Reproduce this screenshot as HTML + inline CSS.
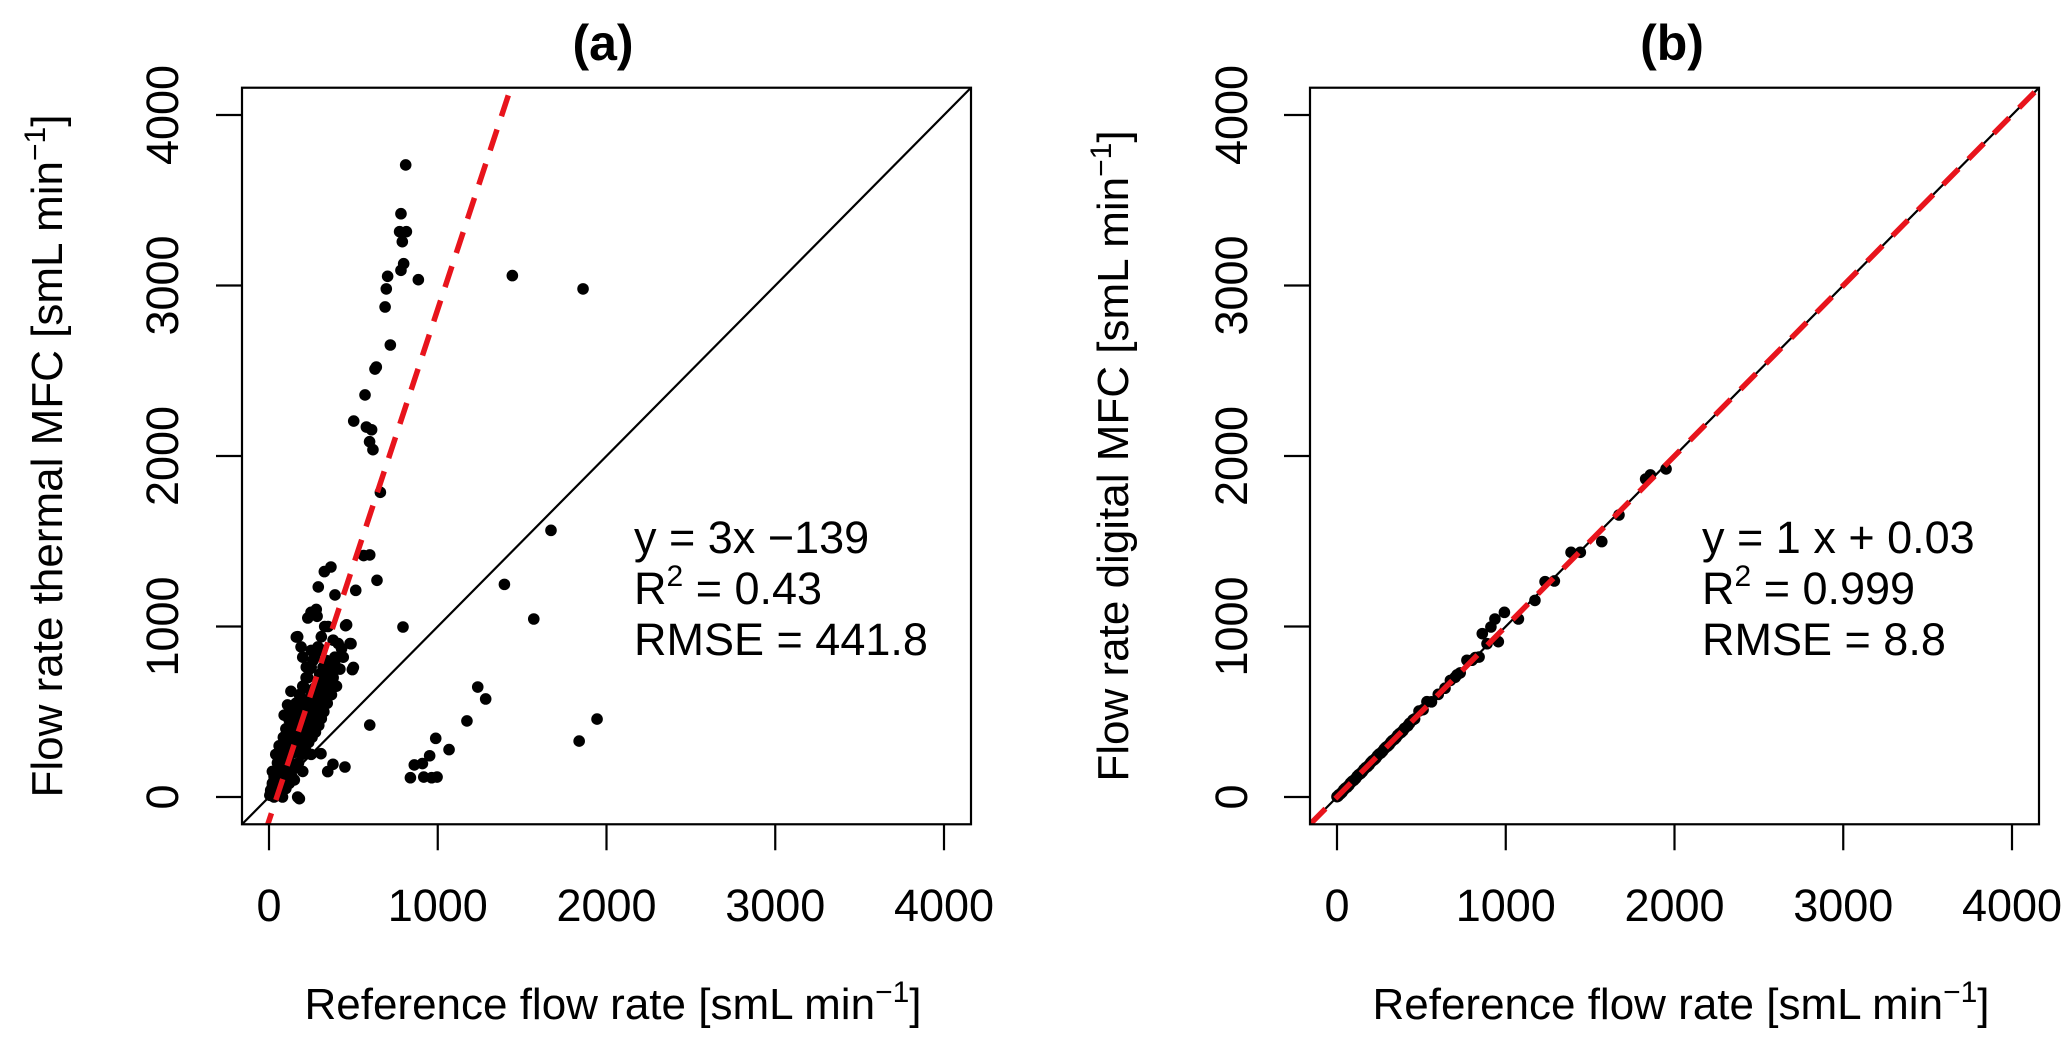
<!DOCTYPE html>
<html><head><meta charset="utf-8"><style>
html,body{margin:0;padding:0;background:#fff}
svg{display:block;font-family:"Liberation Sans",Arial,sans-serif}
</style></head><body>
<svg id="fig" width="2067" height="1045" viewBox="0 0 2067 1045"></svg>
<script>
const ticks=[0,1000,2000,3000,4000];
const tickLabels=["0","1000","2000","3000","4000"];
const fitA=[3,-139];
const fitB=[1,0.03];
const pointsAx=[810,782,774,814,790,798,782,703,885,695,688,719,636,628,569,502,577,608,596,616,660,1442,1861,1671,1395,1569,794,597,1237,1284,1173,988,1067,952,909,861,838,917,964,996,1944,1838,170,450,379,348,308,328,367,292,391,514,640,561,597,454,486,494,249,285,162,221,
5,10,15,20,25,30,35,40,45,50,55,60,65,70,75,80,85,90,95,100,105,110,115,120,125,130,135,140,145,150,155,160,165,170,175,180,185,190,195,200,205,210,215,220,225,230,235,240,245,250,255,260,265,270,275,280,285,290,295,300,305,310,315,320,325,330,335,340,345,350,360,370,380,390,400,410,420,380,300,250,200,170,190,130,110,90,60,40,20,230,260,280,330,350,440,460,480,500,30,60,100,150,120,80,200,250,180,140,160,220,270,320,360,400,60,90,50,20,10,
12,28,48,68,88,108,128,148,168,188,208,228,248,268,288,308,328,348,368,388,30,50,70,90,110,130,150,170,190,210,230,250,270,290,310,330,350,370,100,140,180,220,260,300,340,70,110,150,190,230,270,310,350,390,430];
const pointsAy=[3707,3421,3316,3316,3257,3128,3089,3054,3034,2980,2874,2651,2522,2510,2358,2205,2170,2154,2084,2037,1787,3058,2980,1564,1247,1044,997,422,645,575,446,344,278,242,196,188,113,117,113,117,457,328,0,176,192,149,254,1322,1349,1232,1185,1212,1271,1416,1420,1005,899,747,1083,1060,938,762,
10,40,20,80,5,120,60,150,30,200,90,250,40,300,130,180,350,60,220,400,150,280,90,450,200,330,120,500,260,380,170,550,300,420,200,600,350,470,250,650,380,520,280,700,420,560,320,750,460,600,350,800,500,640,380,850,540,680,420,720,580,460,650,760,500,600,700,800,550,650,750,600,700,800,650,900,750,920,870,860,820,940,880,620,540,480,300,250,150,1050,1080,1100,1000,1000,820,1010,900,760,0,20,50,100,80,0,150,250,-10,320,420,480,560,640,700,760,180,260,120,60,30,
30,70,110,150,190,230,270,310,350,390,430,470,510,550,590,630,670,710,750,790,100,160,220,280,340,400,460,520,580,640,700,760,820,880,940,560,620,680,200,260,320,380,440,500,560,260,330,400,470,540,610,680,750,820,870];
const pointsBx=[1950,1857,1829,1671,1569,1442,1387,1288,1233,1173,1075,992,936,956,889,912,861,842,770,711,672,533,486,450,420,400,380,360,340,320,300,280,260,240,220,200,180,160,140,120,100,80,60,40,20,10,0,5,30,50,70,90,110,130,150,170,190,210,230,250,270,290,310,330,350,370,390,430,460,510,560,600,640,700,730,800,820];
const pointsBy=[1924,1889,1865,1654,1498,1435,1435,1267,1263,1153,1044,1083,1044,911,899,997,958,821,802,716,684,559,504,452,418,402,378,362,338,322,298,282,258,242,218,202,178,162,138,122,98,82,58,42,18,12,2,4,28,52,68,92,108,132,148,172,188,212,228,252,268,292,308,332,348,372,388,432,458,512,558,602,638,702,728,802,818];

const NS="http://www.w3.org/2000/svg";
const svg=document.getElementById('fig');
function el(tag,attrs,parent){const e=document.createElementNS(NS,tag);for(const k in attrs)e.setAttribute(k,attrs[k]);(parent||svg).appendChild(e);return e;}
const X0=269,KX=0.16875,Y0=797,KY=0.1705;
const MIN=-160,MAX=4160;
function panel(ox,id,title,ytitle,xs,ys,fit,ann,yLabX,yTitleX,titleX,xTitleX){
  const sx=v=>ox+X0+v*KX, sy=v=>Y0-v*KY;
  const g=el('g',{});
  
  
  const L=sx(MIN),R=sx(MAX),T=sy(MAX),B=sy(MIN);
  const cp=el('clipPath',{id:'clip'+id},g);
  el('rect',{x:L,y:T,width:R-L,height:B-T},cp);
  const one=el('line',{x1:sx(MIN),y1:sy(MIN),x2:sx(MAX),y2:sy(MAX),stroke:'#000','stroke-width':2.2,'clip-path':'url(#clip'+id+')'},g);
  
  
  const dots=el('g',{'clip-path':'url(#clip'+id+')'},g);
  
  
  for(let i=0;i<xs.length;i++){
    const c=el('circle',{cx:sx(xs[i]),cy:sy(ys[i]),r:5.8,fill:'#000'},dots);
    
    
  }
  const fx1=MIN,fx2=MAX;
  const fl=el('line',{x1:sx(fx1),y1:sy(fit[0]*fx1+fit[1]),x2:sx(fx2),y2:sy(fit[0]*fx2+fit[1]),stroke:'#e8141c','stroke-width':5.5,'stroke-dasharray':'22 14','clip-path':'url(#clip'+id+')'},g);
  
  
  const box=el('rect',{x:L,y:T,width:R-L,height:B-T,fill:'none',stroke:'#000','stroke-width':2.2},g);
  
  
  for(let i=0;i<ticks.length;i++){
    el('line',{x1:sx(ticks[i]),y1:B,x2:sx(ticks[i]),y2:B+26,stroke:'#000','stroke-width':2.2},g);
    const t=el('text',{x:sx(ticks[i]),y:921,'font-size':45,'text-anchor':'middle'},g);
    t.textContent=tickLabels[i];
    
    
    el('line',{x1:L,y1:sy(ticks[i]),x2:L-26,y2:sy(ticks[i]),stroke:'#000','stroke-width':2.2},g);
    const yt=el('text',{x:0,y:0,'font-size':45,'text-anchor':'middle',transform:`translate(${yLabX},${sy(ticks[i])}) rotate(-90)`},g);
    yt.textContent=tickLabels[i];
    
    
  }
  const tt=el('text',{x:titleX,y:60,'font-size':50,'font-weight':'bold','text-anchor':'middle'},g);
  tt.textContent=title;
  
  
  const xt=el('text',{x:xTitleX,y:1019,'font-size':44,'text-anchor':'middle'},g);
  xt.innerHTML='Reference flow rate [smL min<tspan dy="-17" font-size="30">−1</tspan><tspan dy="17">]</tspan>';
  
  
  const yti=el('text',{x:0,y:0,'font-size':44,'text-anchor':'middle',transform:`translate(${yTitleX},${(T+B)/2}) rotate(-90)`},g);
  yti.innerHTML=ytitle+' [smL min<tspan dy="-17" font-size="30">−1</tspan><tspan dy="17">]</tspan>';
  
  
  const an=el('text',{x:ann.x,y:553,'font-size':45},g);
  an.innerHTML=`<tspan x="${ann.x}" y="553">${ann.l1}</tspan><tspan x="${ann.x}" y="604">R</tspan><tspan dy="-18" font-size="30">2</tspan><tspan dy="18"> = ${ann.r2}</tspan><tspan x="${ann.x}" y="655">RMSE = ${ann.rmse}</tspan>`;
  
  
}
panel(0,'a','(a)','Flow rate thermal MFC',pointsAx,pointsAy,fitA,{x:634,l1:'y = 3x −139',r2:'0.43',rmse:'441.8'},178,62,603,613);
panel(1068,'b','(b)','Flow rate digital MFC',pointsBx,pointsBy,fitB,{x:1702,l1:'y = 1 x + 0.03',r2:'0.999',rmse:'8.8'},1247,1128,1672,1681);
</script>
</body></html>
